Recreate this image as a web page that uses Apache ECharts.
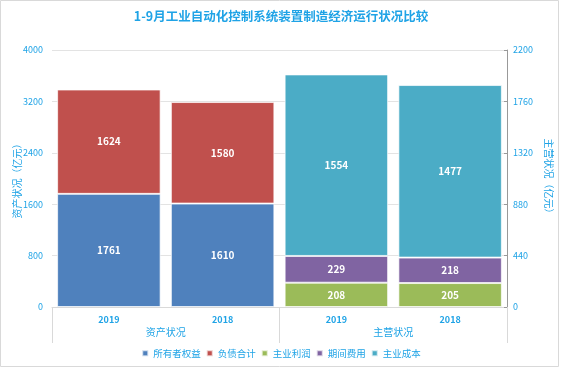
<!DOCTYPE html>
<html><head><meta charset="utf-8">
<script src="https://cdn.jsdelivr.net/npm/echarts@6/dist/echarts.min.js"></script>
<style>html,body{margin:0;padding:0;background:#fff}#c{width:562px;height:370px}</style>
</head><body><div id="c"></div>
<script>
var categories = ['2019', '2018', '2019', '2018'];
var groups = ['资产状况', '主营状况'];
var owners = [1761, 1610, '-', '-'];      // 所有者权益
var debts = [1624, 1580, '-', '-'];       // 负债合计
var profit = ['-', '-', 208, 205];        // 主业利润
var expense = ['-', '-', 229, 218];       // 期间费用
var cost = ['-', '-', 1554, 1477];        // 主业成本
var leftTicks = [0, 4000, 800];
var rightTicks = [0, 2200, 440];

var blue = '#1FA3E6';
var ff = "'Noto Sans CJK SC', sans-serif";
var chart = echarts.init(document.getElementById('c'));
function bar(name, data, axis, color) {
  return {
    name: name, type: 'bar', stack: 'all', yAxisIndex: axis, xAxisIndex: 0,
    data: data, barCategoryGap: '9%',
    itemStyle: { color: color, borderColor: 'rgba(255,255,255,0.7)', borderWidth: 1 },
    label: { show: true, position: 'inside', color: '#fff', fontWeight: 'bold', fontSize: 10, fontFamily: ff }
  };
}
function plain(v) { return String(v); }
chart.setOption({
  animation: false,
  textStyle: { fontFamily: ff },
  title: { text: '1-9月工业自动化控制系统装置制造经济运行状况比较', left: 'center', top: 5,
    textStyle: { color: blue, fontSize: 12.5, fontWeight: 'bold', fontFamily: ff } },
  graphic: [{ type: 'rect', shape: { x: 0.5, y: 0.5, width: 558, height: 366 }, silent: true,
    style: { fill: 'none', stroke: '#d9d9d9', lineWidth: 1 } }],
  legend: { bottom: 7, left: 'center', itemWidth: 6, itemHeight: 6, itemGap: 5, icon: 'rect',
    textStyle: { color: blue, fontSize: 9.5, fontFamily: ff },
    data: ['所有者权益', '负债合计', '主业利润', '期间费用', '主业成本'] },
  grid: { left: 52, right: 55, top: 50, bottom: 63, containLabel: false, outerBoundsMode: 'none' },
  xAxis: [
    { type: 'category', data: categories, position: 'bottom',
      axisLine: { show: true, lineStyle: { color: '#d9d9d9' } }, axisTick: { show: false },
      axisLabel: { color: blue, fontSize: 9, fontWeight: 'bold', margin: 8, fontFamily: ff } },
    { type: 'category', data: groups, position: 'bottom',
      axisLine: { show: false },
      axisTick: { show: true, length: 36, lineStyle: { color: '#d9d9d9' } },
      axisLabel: { color: blue, fontSize: 10, margin: 20, fontFamily: ff } }
  ],
  yAxis: [
    { type: 'value', min: leftTicks[0], max: leftTicks[1], interval: leftTicks[2],
      name: '资产状况（亿元）', nameLocation: 'middle', nameGap: 30, nameMoveOverlap: false,
      nameTextStyle: { color: blue, fontSize: 10, fontFamily: ff },
      axisLine: { show: false }, axisTick: { show: false },
      axisLabel: { color: blue, fontSize: 9, margin: 9, formatter: plain },
      splitLine: { lineStyle: { color: '#e3e3e3' } } },
    { type: 'value', min: rightTicks[0], max: rightTicks[1], interval: rightTicks[2],
      name: '主营状况（亿元）', nameLocation: 'middle', nameGap: 36, nameRotate: -90,
      nameTextStyle: { color: blue, fontSize: 10, fontFamily: ff },
      axisLine: { show: true, lineStyle: { color: '#999' } },
      axisTick: { show: true, inside: true, length: 3, lineStyle: { color: '#999' } },
      axisLabel: { color: blue, fontSize: 9, margin: 6, formatter: plain },
      splitLine: { show: false } }
  ],
  series: [
    bar('所有者权益', owners, 0, '#4F81BD'),
    bar('负债合计', debts, 0, '#C0504D'),
    bar('主业利润', profit, 1, '#9BBB59'),
    bar('期间费用', expense, 1, '#8064A2'),
    bar('主业成本', cost, 1, '#4BACC6')
  ]
});
</script></body></html>
